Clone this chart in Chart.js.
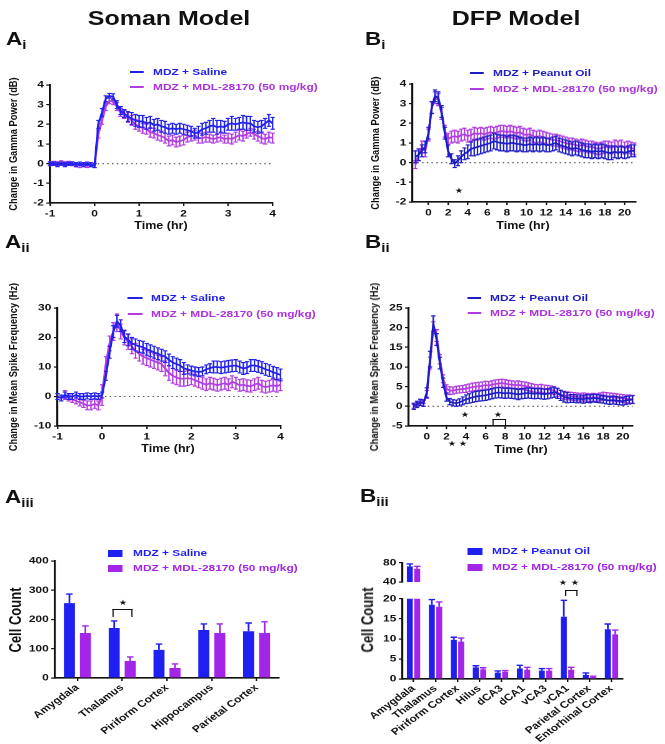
<!DOCTYPE html>
<html>
<head>
<meta charset="utf-8">
<script src="https://cdn.jsdelivr.net/npm/chart.js@4.4.0/dist/chart.umd.min.js"></script>
<style>
  body { margin: 0; background: #fff; width: 665px; height: 744px; overflow: hidden; }
  /* the source figure is stretched sideways, so everything is laid out narrow and scaled */
  #fig {
    position: absolute; left: 0; top: 0; width: 532px; height: 744px;
    transform: scaleX(1.25); transform-origin: 0 0;
    font-family: "Liberation Sans", Arial, Helvetica, sans-serif; font-weight: bold; color: #111;
  }
  .txt { position: absolute; white-space: nowrap; line-height: 1; }
</style>
</head>
<body>
<div id="fig"></div>
<script>
// ===== Data =====
// time bins in minutes relative to treatment
const somanTimes = [-60,-55,-50,-45,-40,-35,-30,-25,-20,-15,-10,-5,0,5,10,15,20,25,30,35,40,45,50,55,60,65,70,75,80,85,90,95,100,105,110,115,120,125,130,135,140,145,150,155,160,165,170,175,180,185,190,195,200,205,210,215,220,225,230,235,240];
const dfpTimes = [-80,-60,-40,-20,0,20,40,60,80,100,120,140,160,180,200,220,240,260,280,300,320,340,360,380,400,420,440,460,480,500,520,540,560,580,600,620,640,660,680,700,720,740,760,780,800,820,840,860,880,900,920,940,960,980,1000,1020,1040,1060,1080,1100,1120,1140,1160,1180,1200,1220,1240,1260];

const somanHourTicks = [-1, 0, 1, 2, 3, 4];
const dfpHourTicks = [0, 2, 4, 6, 8, 10, 12, 14, 16, 18, 20];
const gammaTicks = [-2, -1, 0, 1, 2, 3, 4];
const spikeTicksSoman = [-10, 0, 10, 20, 30];
const spikeTicksDfp = [-5, 0, 5, 10, 15, 20, 25];
const cellTicksSoman = [0, 100, 200, 300, 400];
const cellTicksDfpLow = [0, 5, 10, 15, 20];
const cellTicksDfpHigh = [40, 60, 80];

// Ai - gamma power, soman
const gammaSaline = [0.0,0.0,-0.05,0.0,-0.05,0.0,0.0,-0.05,0.0,-0.05,0.0,-0.05,-0.1,
  2.0,2.6,3.3,3.45,3.4,3.0,2.7,2.55,2.4,2.3,2.2,2.15,2.15,2.05,2.1,1.95,2.0,1.9,1.85,1.75,1.8,1.75,1.8,1.75,1.7,1.65,1.55,1.6,
  1.75,1.8,1.9,1.95,1.85,1.9,1.85,2.0,2.05,2.0,2.05,2.1,2.05,2.05,1.9,1.85,1.9,2.05,2.2,2.05];
const gammaSalineErr = [0.08,0.08,0.1,0.08,0.1,0.08,0.08,0.1,0.08,0.1,0.08,0.1,0.1,
  0.2,0.2,0.15,0.12,0.15,0.2,0.2,0.2,0.25,0.3,
  0.3,0.3,0.3,0.3,0.3,0.3,0.3,0.3,0.3,0.25,
  0.25,0.25,0.25,0.25,0.25,0.25,0.25,0.3,0.3,0.3,
  0.3,0.35,0.35,0.3,0.3,0.3,0.35,0.3,0.3,0.35,
  0.35,0.35,0.3,0.3,0.3,0.25,0.3,0.3];
const gammaMdlSoman = [0.0,0.02,0.0,0.05,0.0,0.02,0.0,-0.05,-0.1,-0.05,-0.1,-0.05,-0.1,
  1.5,2.2,2.9,3.2,3.15,2.9,2.6,2.5,2.35,2.2,2.0,1.9,1.8,1.75,1.6,1.55,1.45,1.4,1.3,1.15,1.2,1.1,1.15,1.2,1.35,1.4,1.45,1.3,
  1.3,1.35,1.3,1.25,1.3,1.35,1.25,1.3,1.25,1.35,1.45,1.4,1.5,1.6,1.5,1.4,1.3,1.25,1.35,1.3];
const gammaMdlSomanErr = [0.1,0.1,0.1,0.1,0.1,0.1,0.1,0.1,0.1,0.1,0.1,0.1,0.1,
  0.2,0.2,0.2,0.15,0.15,0.2,0.2,0.2,0.25,0.25,
  0.25,0.25,0.25,0.25,0.25,0.25,0.25,0.25,0.25,0.25,
  0.25,0.25,0.25,0.25,0.25,0.25,0.25,0.25,0.25,0.25,
  0.2,0.2,0.2,0.2,0.2,0.25,0.25,0.25,0.25,0.25,
  0.2,0.2,0.25,0.25,0.25,0.25,0.25,0.25];

// Aii - spike frequency, soman
const spikeSaline = [0.0,-0.5,0.5,0.0,0.0,0.5,0.0,0.0,0.2,0.0,0.2,0.0,0.5,
  7,15,22,25.5,24,20.3,19.2,18,17.5,17,16.7,16,15.5,15,14.5,14,13.5,12.4,11.5,11,10.5,9.5,9.2,8.8,8.5,
  8.3,8.5,9.2,9.6,10,10,9.8,10,10.2,10.4,10.5,10,9.5,9.8,10.5,10.5,10.2,9.8,9.2,8.8,8.2,7.8,7.3];
const spikeSalineErr = [1,1,1,1,1,1,1,1,1,1,1,1,1,
  1.5,2,2,2,2, 2,2,2,2,2, 2,2,2,2,2, 2,2,2,2,2, 2,2,1.5,1.5,1.5,
  1.5,1.5,1.5,1.5,2, 2,2,2,2,2, 2,2,2,2,2, 2,2,2,2,2, 2,2,2];
const spikeMdlSoman = [0,-0.5,0.5,-0.5,-1,-1.5,-2,-2.5,-3,-3,-2.5,-3,0.5,
  11,18,22,25,22,20,18.5,17,15.5,14.5,13.5,13,12.5,12,11.5,11,9.5,8,7,6.5,6,6,6.2,6,5.5,
  5,4.5,4,4.5,4.2,3.8,4.2,4.5,4,5,4.5,3.8,4,3.6,3.5,4,4.5,3.5,3.2,3.5,3.8,3.5,4];
const spikeMdlSomanErr = [1,1,1.5,1,1,1,1.2,1.2,1.5,1.5,1.5,1.5,3.5,
  2.5,2.5,3,3,2.5, 2.5,2.5,2.5,2.5,2.5, 2.5,2.5,2.5,2.5,2.5, 2.5,2.5,2.5,2.5,2.5, 2.5,2.5,2.5,2,2,
  2,2,2,2,2, 2,2,2,2,2, 2,2,2,2,2, 2,2,2,2,2, 2,2,2];

// Bi - gamma power, DFP
const gammaPeanut = [0.3,0.4,0.6,0.8,1.5,2.8,3.4,3.3,2.6,1.5,
  0.6,0.2,-0.05,0.1,0.3,0.45,0.55,0.7,0.75,0.8,
  0.85,0.9,0.95,1.0,1.1,1.05,1.0,1.0,0.95,1.0,
  1.0,0.95,0.95,0.9,0.9,0.95,0.9,0.95,0.9,0.95,
  0.9,0.9,0.95,1.0,0.9,0.85,0.8,0.75,0.7,0.75,
  0.7,0.65,0.6,0.6,0.55,0.6,0.55,0.6,0.55,0.5,
  0.5,0.55,0.5,0.55,0.5,0.55,0.6,0.6];
const gammaPeanutErr = [0.3,0.3,0.3,0.3,0.3,0.3,0.3,0.3,0.3,0.3,
  0.3,0.25,0.2,0.25,0.3,0.3,0.35,0.35,0.4,0.4,
  0.4,0.4,0.4,0.4,0.4,0.4,0.4,0.4,0.4,0.4,
  0.4,0.4,0.35,0.35,0.35,0.35,0.35,0.35,0.35,0.35,
  0.35,0.35,0.35,0.35,0.35,0.35,0.35,0.35,0.35,0.35,
  0.35,0.35,0.35,0.35,0.35,0.35,0.35,0.35,0.35,0.35,
  0.35,0.3,0.3,0.3,0.3,0.3,0.3,0.3];
const gammaMdlDfp = [-0.1,0.4,0.8,0.6,1.4,2.8,3.3,3.2,2.5,1.6,
  1.2,1.3,1.35,1.3,1.4,1.45,1.35,1.4,1.5,1.45,
  1.5,1.45,1.5,1.55,1.5,1.55,1.6,1.6,1.55,1.6,
  1.55,1.5,1.55,1.45,1.4,1.45,1.35,1.3,1.35,1.3,
  1.25,1.2,1.15,1.15,1.1,1.05,1.0,0.95,0.95,0.9,
  0.85,0.9,0.85,0.8,0.8,0.75,0.7,0.75,0.8,0.8,
  0.75,0.85,0.8,0.85,0.75,0.8,0.75,0.7];
const gammaMdlDfpErr = [0.2,0.3,0.3,0.3,0.3,0.3,0.3,0.3,0.3,0.3,
  0.3,0.3,0.3,0.3,0.3,0.3,0.3,0.3,0.3,0.3,
  0.3,0.3,0.3,0.3,0.3,0.3,0.3,0.3,0.3,0.3,
  0.3,0.3,0.3,0.3,0.3,0.3,0.3,0.3,0.3,0.3,
  0.3,0.3,0.3,0.3,0.3,0.3,0.3,0.3,0.3,0.3,
  0.3,0.3,0.3,0.3,0.3,0.3,0.3,0.3,0.3,0.3,
  0.3,0.3,0.3,0.3,0.3,0.3,0.3,0.3];

// Bii - spike frequency, DFP
const spikePeanut = [0,0.5,1.0,0.8,3.5,12,21,17,11,6,
  2.3,1.2,0.9,0.8,1.0,1.4,1.8,2.0,2.3,2.5,
  2.6,2.7,2.8,3.0,3.2,3.4,3.5,3.4,3.3,3.4,
  3.3,3.2,3.0,3.2,3.3,3.4,3.3,3.2,3.3,3.2,
  3.1,3.2,3.4,3.6,3.3,2.8,2.4,2.2,2.0,2.0,
  1.9,1.9,1.8,2.0,1.9,2.1,2.0,1.9,1.8,1.6,
  1.5,1.6,1.5,1.4,1.3,1.5,1.6,1.7];
const spikePeanutErr = [0.8,0.8,0.8,0.8,1.2,2,2,1.5,1.5,1.2,
  1,0.8,0.8,0.8,0.9,1,1.1,1.2,1.3,1.3,
  1.3,1.3,1.3,1.3,1.3,1.3,1.3,1.3,1.3,1.3,
  1.3,1.3,1.3,1.3,1.3,1.3,1.3,1.3,1.3,1.3,
  1.3,1.3,1.3,1.3,1.3,1.3,1.3,1.3,1.0,1.0,
  1.0,1.0,1.0,1.0,1.0,1.0,1.0,1.0,1.0,1.0,
  1.0,1.0,1.0,1.0,1.0,1.0,1.0,1.0];
const spikeMdlDfp = [0,0.5,0.8,1.2,3,11,20,18,12,7,
  4.5,4.0,4.0,4.2,4.3,4.4,4.5,4.7,4.9,5.0,
  5.1,5.2,5.4,5.3,5.5,5.7,5.8,5.9,5.8,5.6,
  5.5,5.4,5.5,5.3,5.2,5.0,4.8,4.6,4.5,4.6,
  4.4,4.3,4.2,4.0,3.5,3.0,2.8,2.7,2.6,2.5,
  2.4,2.3,2.4,2.3,2.2,2.3,2.2,2.4,2.6,2.5,
  2.4,2.3,2.2,2.1,2.0,1.9,1.9,1.8];
const spikeMdlDfpErr = [0.5,0.5,0.5,0.5,1,1.5,1.5,1.5,1.2,1,
  1,1,0.9,0.9,0.9,0.9,1,1,1,1,
  1,1,1,1,1,1,1,1,1,1,
  1,1,1,1,1,1,1,1,1,1,
  1,1,1,1,1,1,1,1,1,1,
  1,1,1,1,1,1,1,1,1,1,
  1,1,1,1,1,1,1,1];

// Aiii / Biii - cell counts
const regionsSoman = ["Amygdala", "Thalamus", "Piriform Cortex", "Hippocampus", "Parietal Cortex"];
const cellsSaline = [256, 171, 96, 164, 160];
const cellsSalineErr = [31, 24, 20, 21, 28];
const cellsMdlSoman = [154, 58, 34, 154, 154];
const cellsMdlSomanErr = [24, 14, 14, 31, 38];

const regionsDfp = ["Amygdala", "Thalamus", "Piriform Cortex", "Hilus", "dCA3", "dCA1", "vCA3", "vCA1", "Parietal Cortex", "Entorhinal Cortex"];
const cellsPeanut = [72.5, 18.5, 9.75, 2.9, 1.6, 2.6, 2.1, 15.5, 1.0, 12.4];
const cellsPeanutErr = [5, 1.3, 0.65, 0.4, 0.4, 0.8, 0.5, 4.1, 0.5, 1.3];
const cellsMdlDfp = [67.5, 18.0, 9.3, 2.4, 1.8, 2.3, 2.1, 2.3, 0.5, 11.1];
const cellsMdlDfpErr = [5, 1.2, 0.9, 0.4, 0.3, 0.6, 0.5, 0.6, 0.2, 1.1];

// ===== Colours =====
const SALINE = "#2121ee";
const PEANUT = "#1d1dc6";
const MDL_LINE = "#b23ce2";
const BAR_BLUE = "#1f1ff2";
const BAR_PURPLE = "#a325e8";
const MDL_TEXT = "#ad32de";

// ===== Helpers =====
const S = 1.25;
const fig = document.getElementById("fig");
const FONT = "'Liberation Sans', Arial, Helvetica, sans-serif";
const STAR_FONT = "'DejaVu Sans', sans-serif";

// positions below are in pixels of the finished picture; x gets divided by S
function text(html, x, y, opts = {}) {
  const el = document.createElement("div");
  el.className = "txt";
  el.innerHTML = html;
  el.style.left = x / S + "px";
  el.style.top = y + "px";
  el.style.fontSize = (opts.size || 9.5) + "px";
  if (opts.color) el.style.color = opts.color;
  if (opts.family) el.style.fontFamily = opts.family;
  if (opts.weight) el.style.fontWeight = opts.weight;
  const dx = opts.align === "center" || opts.rotate ? "-50%" : "0";
  el.style.transform = `translate(${dx},-50%)` + (opts.rotate ? " rotate(-90deg)" : "");
  fig.appendChild(el);
}

function rect(x1, y1, x2, y2, style) {
  const el = document.createElement("div");
  el.style.position = "absolute";
  el.style.boxSizing = "border-box";
  el.style.left = x1 / S + "px";
  el.style.top = y1 + "px";
  el.style.width = (x2 - x1) / S + "px";
  el.style.height = y2 - y1 + "px";
  Object.assign(el.style, style);
  fig.appendChild(el);
}

function legendLine(x, y, color, label, textColor) {
  rect(x, y - 0.9, x + 14, y + 0.9, { background: color });
  text(label, x + 23, y, { color: textColor });
}

function legendBox(x, y, color, label) {
  rect(x, y - 3.5, x + 15, y + 3.5, { background: color });
  text(label, x + 25, y, { color: color });
}

function panelLabel(letter, roman, x, y) {
  text(`${letter}<span style="font-size:12px;position:relative;top:4px">${roman}</span>`, x, y, { size: 18 });
}

function bracket(x1, y1, x2, y2) {
  rect(x1, y1, x2, y2, {
    borderTop: "1.7px solid #111",
    borderLeft: "1.4px solid #111",
    borderRight: "1.4px solid #111",
  });
}

function star(x, y) {
  text("\u2605", x, y, { size: 7.5, family: STAR_FONT, align: "center", weight: "normal" });
}

// canvas holder placed so that the plot area lands on `area`
function frame(area, pad) {
  const wrap = document.createElement("div");
  wrap.style.position = "absolute";
  wrap.style.left = area.left / S - pad.left + "px";
  wrap.style.top = area.top - pad.top + "px";
  wrap.style.width = (area.right - area.left) / S + pad.left + pad.right + "px";
  wrap.style.height = area.bottom - area.top + pad.top + pad.bottom + "px";
  const canvas = document.createElement("canvas");
  wrap.appendChild(canvas);
  fig.appendChild(wrap);
  return canvas;
}

const tickFont = { family: FONT, weight: "bold", size: 9.5 };
const axisGrid = { drawOnChartArea: false, drawTicks: true, tickLength: 3, color: "#111", lineWidth: 1.2 };
const axisBorder = { display: true, color: "#111", width: 1.6 };

// ===== Plugins =====
const errorBars = {
  id: "errorBars",
  afterDatasetDraw(chart, args, opts) {
    const ds = chart.data.datasets[args.index];
    if (!ds.errors) return;
    const yScale = chart.scales.y;
    const { ctx, chartArea } = chart;
    ctx.save();
    ctx.beginPath();
    ctx.rect(chartArea.left - 3, chartArea.top, chartArea.right - chartArea.left + 6, chartArea.bottom - chartArea.top);
    ctx.clip();
    ctx.strokeStyle = opts.upOnly ? ds.backgroundColor : ds.borderColor;
    ctx.lineWidth = opts.width || 1;
    const cap = opts.cap || 1.5;
    args.meta.data.forEach((el, i) => {
      const raw = ds.data[i];
      const v = typeof raw === "number" ? raw : raw.y;
      const e = ds.errors[i];
      if (e === undefined) return;
      const top = yScale.getPixelForValue(v + e);
      const bottom = opts.upOnly ? el.y : yScale.getPixelForValue(v - e);
      ctx.beginPath();
      ctx.moveTo(el.x, top);
      ctx.lineTo(el.x, bottom);
      ctx.moveTo(el.x - cap, top);
      ctx.lineTo(el.x + cap, top);
      if (!opts.upOnly) {
        ctx.moveTo(el.x - cap, bottom);
        ctx.lineTo(el.x + cap, bottom);
      }
      ctx.stroke();
    });
    ctx.restore();
  },
};

const zeroLine = {
  id: "zeroLine",
  beforeDatasetsDraw(chart, args, opts) {
    if (!opts.on) return;
    const { ctx, chartArea } = chart;
    const py = chart.scales.y.getPixelForValue(0);
    ctx.save();
    ctx.setLineDash([1.2, 2.6]);
    ctx.strokeStyle = "#555";
    ctx.lineWidth = 1.1;
    ctx.beginPath();
    ctx.moveTo(chartArea.left, py);
    ctx.lineTo(chartArea.right, py);
    ctx.stroke();
    ctx.restore();
  },
};

Chart.register(errorBars, zeroLine);

// ===== Chart builders =====
function timeChart(o) {
  const pad = { left: 28, right: 10, top: 8, bottom: 16 };
  const canvas = frame(o.area, pad);
  return new Chart(canvas, {
    type: "line",
    data: {
      datasets: o.series.map((s) => ({
        data: o.times.map((m, i) => ({ x: m / 60, y: s.values[i] })),
        errors: s.errors,
        borderColor: s.color,
        borderWidth: 1.7,
        pointRadius: 0,
        tension: 0,
      })),
    },
    options: {
      responsive: true,
      maintainAspectRatio: false,
      animation: false,
      devicePixelRatio: 2,
      layout: { padding: { top: pad.top, right: pad.right, left: 0, bottom: 0 } },
      plugins: {
        legend: { display: false },
        tooltip: { enabled: false },
        zeroLine: { on: true },
        errorBars: { cap: 1.7, width: 1.15 },
      },
      scales: {
        x: {
          type: "linear",
          min: o.xMin,
          max: o.xMax,
          afterFit: (s) => { s.height = pad.bottom; },
          afterBuildTicks: (s) => { s.ticks = o.xTicks.map((v) => ({ value: v })); },
          ticks: { color: "#111", font: tickFont, padding: 2, maxRotation: 0, autoSkip: false },
          grid: axisGrid,
          border: axisBorder,
        },
        y: {
          min: o.yMin,
          max: o.yMax,
          afterFit: (s) => { s.width = pad.left; },
          afterBuildTicks: (s) => { s.ticks = o.yTicks.map((v) => ({ value: v })); },
          ticks: { color: "#111", font: tickFont, padding: 2 },
          grid: axisGrid,
          border: axisBorder,
        },
      },
    },
  });
}

function barChart(o) {
  const canvas = frame(o.area, o.pad);
  return new Chart(canvas, {
    type: "bar",
    data: {
      labels: o.labels,
      datasets: o.series.map((s) => ({
        data: s.values,
        errors: s.errors,
        backgroundColor: s.color,
        borderWidth: 0,
        barPercentage: o.barPct,
        categoryPercentage: o.catPct,
      })),
    },
    options: {
      responsive: true,
      maintainAspectRatio: false,
      animation: false,
      devicePixelRatio: 2,
      layout: { padding: { top: o.pad.top, right: o.pad.right, left: 0, bottom: o.showX ? 0 : o.pad.bottom } },
      plugins: {
        legend: { display: false },
        tooltip: { enabled: false },
        errorBars: { cap: 2.6, width: 1.4, upOnly: true },
      },
      scales: {
        x: {
          display: o.showX,
          offset: true,
          afterFit: (s) => { s.height = o.pad.bottom; },
          ticks: { color: "#111", font: { family: FONT, weight: "bold", size: 9.5 }, padding: 1, minRotation: 42, maxRotation: 42, autoSkip: false },
          grid: Object.assign({ offset: false }, axisGrid),
          border: axisBorder,
        },
        y: {
          min: o.yMin,
          max: o.yMax,
          afterFit: (s) => { s.width = o.pad.left; },
          afterBuildTicks: (s) => { s.ticks = o.yTicks.map((v) => ({ value: v })); },
          ticks: { color: "#111", font: tickFont, padding: 2 },
          grid: axisGrid,
          border: axisBorder,
        },
      },
    },
  });
}

// ===== Headings and panel letters =====
text("Soman Model", 169, 18, { size: 20, align: "center" });
text("DFP Model", 516, 18, { size: 20, align: "center" });
panelLabel("A", "i", 6, 38.5);
panelLabel("B", "i", 365, 38.5);
panelLabel("A", "ii", 5, 241.5);
panelLabel("B", "ii", 365, 241.5);
panelLabel("A", "iii", 5, 496.5);
panelLabel("B", "iii", 360, 495.5);

// ===== Ai =====
timeChart({
  area: { left: 50, right: 272, top: 85, bottom: 203 },
  times: somanTimes, xMin: -1, xMax: 4, xTicks: somanHourTicks,
  yMin: -2, yMax: 4, yTicks: gammaTicks,
  series: [
    { values: gammaSaline, errors: gammaSalineErr, color: SALINE },
    { values: gammaMdlSoman, errors: gammaMdlSomanErr, color: MDL_LINE },
  ],
});
legendLine(130, 72, SALINE, "MDZ + Saline", SALINE);
legendLine(130, 87, MDL_LINE, "MDZ + MDL-28170 (50 mg/kg)", MDL_TEXT);
text("Change in Gamma Power (dB)", 14, 144, { size: 9.3, rotate: true });
text("Time (hr)", 161, 226, { size: 10, align: "center" });

// ===== Bi =====
timeChart({
  area: { left: 412, right: 635, top: 84, bottom: 202 },
  times: dfpTimes, xMin: -1.63, xMax: 21.12, xTicks: dfpHourTicks,
  yMin: -2, yMax: 4, yTicks: gammaTicks,
  series: [
    { values: gammaPeanut, errors: gammaPeanutErr, color: PEANUT },
    { values: gammaMdlDfp, errors: gammaMdlDfpErr, color: MDL_LINE },
  ],
});
legendLine(470, 73, PEANUT, "MDZ + Peanut Oil", PEANUT);
legendLine(470, 89, MDL_LINE, "MDZ + MDL-28170 (50 mg/kg)", MDL_TEXT);
text("Change in Gamma Power (dB)", 376, 143, { size: 9.3, rotate: true });
text("Time (hr)", 523, 226, { size: 10, align: "center" });
star(459, 191);

// ===== Aii =====
timeChart({
  area: { left: 57, right: 280, top: 308, bottom: 426 },
  times: somanTimes, xMin: -1, xMax: 4, xTicks: somanHourTicks,
  yMin: -10, yMax: 30, yTicks: spikeTicksSoman,
  series: [
    { values: spikeSaline, errors: spikeSalineErr, color: SALINE },
    { values: spikeMdlSoman, errors: spikeMdlSomanErr, color: MDL_LINE },
  ],
});
legendLine(128, 298, SALINE, "MDZ + Saline", SALINE);
legendLine(128, 314, MDL_LINE, "MDZ + MDL-28170 (50 mg/kg)", MDL_TEXT);
text("Change in Mean Spike Frequency (Hz)", 14, 367, { size: 9.3, rotate: true });
text("Time (hr)", 168, 449, { size: 10, align: "center" });

// ===== Bii =====
timeChart({
  area: { left: 409, right: 633, top: 308, bottom: 426 },
  times: dfpTimes, xMin: -1.84, xMax: 21.02, xTicks: dfpHourTicks,
  yMin: -5, yMax: 25, yTicks: spikeTicksDfp,
  series: [
    { values: spikePeanut, errors: spikePeanutErr, color: PEANUT },
    { values: spikeMdlDfp, errors: spikeMdlDfpErr, color: MDL_LINE },
  ],
});
legendLine(467, 298, PEANUT, "MDZ + Peanut Oil", PEANUT);
legendLine(467, 313, MDL_LINE, "MDZ + MDL-28170 (50 mg/kg)", MDL_TEXT);
text("Change in Mean Spike Frequency (Hz)", 375, 367, { size: 9.3, rotate: true });
text("Time (hr)", 521, 450, { size: 10, align: "center" });
star(465, 415);
star(498, 415);
bracket(493, 419, 506, 426);
star(452, 444);
star(463, 444);

// ===== Aiii =====
barChart({
  area: { left: 55, right: 279, top: 561, bottom: 678 },
  pad: { left: 40, right: 8, top: 8, bottom: 75 },
  showX: true,
  labels: regionsSoman,
  yMin: 0, yMax: 400, yTicks: cellTicksSoman,
  barPct: 0.69, catPct: 0.714,
  series: [
    { values: cellsSaline, errors: cellsSalineErr, color: BAR_BLUE },
    { values: cellsMdlSoman, errors: cellsMdlSomanErr, color: BAR_PURPLE },
  ],
});
legendBox(108, 553, BAR_BLUE, "MDZ + Saline");
legendBox(108, 568, BAR_PURPLE, "MDZ + MDL-28170 (50 mg/kg)");
text("Cell Count", 15, 620, { size: 13, rotate: true });
bracket(113, 609, 133, 617);
star(123, 603);

// ===== Biii (broken axis: 40-80 on top, 0-20 below) =====
barChart({
  area: { left: 402, right: 622, top: 561, bottom: 588 },
  pad: { left: 45, right: 8, top: 6, bottom: 6 },
  showX: false,
  labels: regionsDfp,
  yMin: 40, yMax: 80, yTicks: cellTicksDfpHigh,
  barPct: 0.81, catPct: 0.67,
  series: [
    { values: cellsPeanut, errors: cellsPeanutErr, color: BAR_BLUE },
    { values: cellsMdlDfp, errors: cellsMdlDfpErr, color: BAR_PURPLE },
  ],
});
barChart({
  area: { left: 402, right: 622, top: 597, bottom: 679 },
  pad: { left: 45, right: 8, top: 6, bottom: 75 },
  showX: true,
  labels: regionsDfp,
  yMin: 0, yMax: 20, yTicks: cellTicksDfpLow,
  barPct: 0.81, catPct: 0.67,
  series: [
    { values: cellsPeanut, errors: cellsPeanutErr, color: BAR_BLUE },
    { values: cellsMdlDfp, errors: cellsMdlDfpErr, color: BAR_PURPLE },
  ],
});
legendBox(467, 551, BAR_BLUE, "MDZ + Peanut Oil");
legendBox(467, 567, BAR_PURPLE, "MDZ + MDL-28170 (50 mg/kg)");
text("Cell Count", 367, 620, { size: 13, rotate: true });
bracket(565, 590, 577, 596);
star(563, 583);
star(575, 583);
</script>
</body>
</html>
